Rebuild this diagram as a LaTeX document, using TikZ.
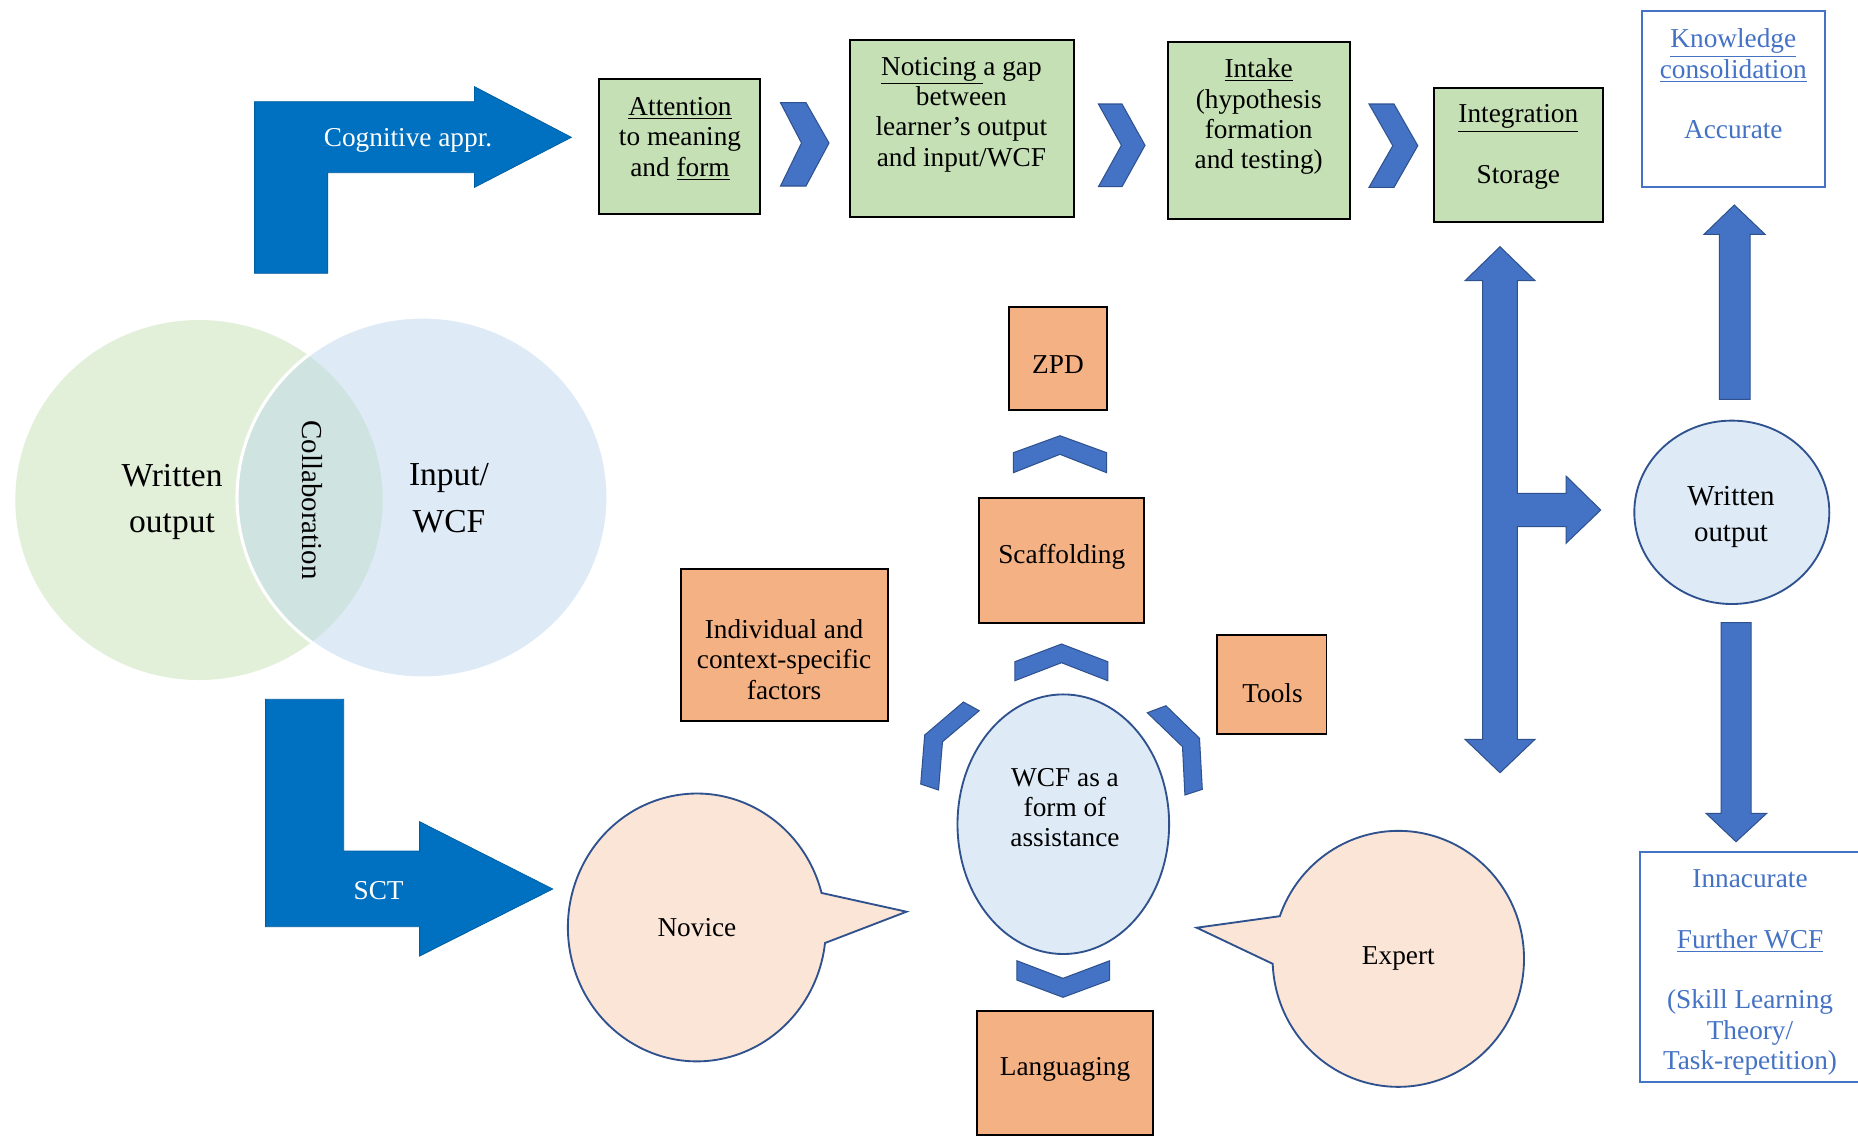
\documentclass[tikz,border=0pt]{standalone}
\usepackage{fontspec}
\setmainfont{Liberation Serif}
\usetikzlibrary{shapes.geometric,shapes.callouts}
\definecolor{cogblue}{HTML}{0070C0}
\definecolor{accblue}{HTML}{4472C4}
\definecolor{accline}{HTML}{2F528F}
\definecolor{boxgreen}{HTML}{C5E0B4}
\definecolor{boxorange}{HTML}{F4B183}
\definecolor{lightblue}{HTML}{DEEBF7}
\definecolor{peach}{HTML}{FBE5D6}
\definecolor{venngreen}{HTML}{E2F0D9}
\definecolor{vennblue}{HTML}{DEEBF7}
\definecolor{vennmix}{HTML}{CFE4E0}
\begin{document}
\begin{tikzpicture}[x=0.017cm, y=-0.017cm,
  every node/.style={inner sep=0pt, outer sep=0pt},
  sz/.style 2 args={minimum width=#1*0.017cm, minimum height=#2*0.017cm},
  txt/.style={align=center, font=\fontsize{13.2}{14.7}\selectfont, yshift=-0.06cm},
  venntxt/.style={align=center, font=\fontsize{16.2}{22.6}\selectfont, yshift=-0.05cm},
  gbox/.style={rectangle, draw=black, line width=0.9pt, fill=boxgreen},
  obox/.style={rectangle, draw=black, line width=0.9pt, fill=boxorange},
  wbox/.style={rectangle, draw=accblue, line width=0.9pt, fill=white},
  blocky/.style={fill=accblue, draw=accline, line width=0.5pt, line join=miter},
  bigarrow/.style={fill=cogblue, draw=cogblue!85!black, line width=0.4pt, line join=miter},
  oval/.style={ellipse, draw=accline, line width=0.9pt, fill=lightblue},
  bubble/.style={ellipse callout, draw=accline, line width=0.9pt, fill=peach},
]
\useasboundingbox (0,0) rectangle (1858,1136);
\fill[white] (0,0) rectangle (1858,1136);

% ---------- Venn diagram ----------
\fill[venngreen] (199,500) ellipse [x radius=183.7, y radius=180];
\fill[vennblue] (422.5,497.5) ellipse [x radius=185.5, y radius=180.5];
\begin{scope}
  \clip (199,500) ellipse [x radius=183.7, y radius=180];
  \fill[vennmix] (422.5,497.5) ellipse [x radius=185.5, y radius=180.5];
\end{scope}
\draw[white, line width=1.5pt] (422.5,497.5) ellipse [x radius=185.5, y radius=180.5];
\node[venntxt] (vennW) at (172,499) {Written\\output};
\node[venntxt] (vennI) at (449,495) {Input/\\WCF};
\node[font=\fontsize{14}{16}\selectfont, rotate=-90] (vennC) at (312.4,500) {Collaboration};

% ---------- big bent arrows ----------
\draw[bigarrow] (254.6,273.3) -- (254.6,101.7) -- (474.5,101.7) -- (474.5,86.7)
  -- (571.3,137.3) -- (474.5,187.3) -- (474.5,172.7) -- (327.8,172.7) -- (327.8,273.3) -- cycle;
\node[txt, text=white] (cog) at (408,136.7) {Cognitive appr.};

\draw[bigarrow] (265.6,699.3) -- (343.7,699.3) -- (343.7,851) -- (419.6,851) -- (419.6,821.7)
  -- (552.7,889) -- (419.6,956) -- (419.6,926.7) -- (265.6,926.7) -- cycle;
\node[txt, text=white] (sct) at (378.6,886.7) {SCT};

% ---------- top row ----------
\node[gbox, sz={161.7}{135}] (att) at (679.5,146.5) {};
\node[txt] (attT) at (680,135.5) {\underline{Attention}\\to meaning\\and \underline{form}};

\node[gbox, sz={224}{177.3}] (noti) at (961.7,128.7) {};
\node[txt] (notiT) at (961.4,111) {\underline{Noticing\ }a gap\\between\\learner’s output\\and input/WCF};

\node[gbox, sz={181.8}{176.7}] (intake) at (1258.7,130.7) {};
\node[txt] (intakeT) at (1258.7,113.2) {\underline{Intake}\\(hypothesis\\formation\\and testing)};

\node[gbox, sz={168.7}{133.4}] (integ) at (1518.4,155) {};
\node[txt] (integT) at (1518.3,143.3) {\underline{Integration}\\[14.7pt]Storage};

\node[wbox, sz={183.3}{176.6}] (know) at (1733.4,99) {};
\node[txt, text=accblue] (knowT) at (1733.3,80.5) {\underline{Knowledge}\\\underline{consolidation}\\[14.7pt]Accurate};

% chevrons of the top row
\draw[blocky] (780.5,102.7) -- (806,102.7) -- (829,143) -- (806,186) -- (780.5,186) -- (801.5,143) -- cycle;
\draw[blocky] (1098.4,104) -- (1122,104) -- (1145,145.3) -- (1122,186.7) -- (1098.4,186.7) -- (1121.4,145.3) -- cycle;
\draw[blocky] (1369,104) -- (1394,104) -- (1417.8,145.7) -- (1394,187.3) -- (1369,187.3) -- (1392.8,145.7) -- cycle;

% ---------- centre (SCT) cluster ----------
\node[obox, sz={97.4}{103.3}] (zpd) at (1058,358.4) {};
\node[txt] (zpdT) at (1058,360.7) {ZPD};

\node[obox, sz={165.3}{125}] (scaf) at (1061.4,560.8) {};
\node[txt] (scafT) at (1061.7,553.3) {Scaffolding};

\node[obox, sz={206.7}{152}] (indiv) at (784.4,645) {};
\node[txt] (indivT) at (784.1,656) {Individual and\\context-specific\\factors};

\node[obox, sz={109.5}{99.3}] (tools) at (1271.8,684.7) {};
\node[txt] (toolsT) at (1272.5,690) {Tools};

\node[obox, sz={175.5}{124.3}] (lang) at (1065,1072.9) {};
\node[txt] (langT) at (1065,1066) {Languaging};

\node[oval, sz={211.6}{259.6}] (wcf) at (1063.3,824.2) {};
\node[txt] (wcfT) at (1065,804) {WCF as a\\form of\\assistance};

% up / down chevrons
\draw[blocky] (1013.3,472.7) -- (1013.3,452.7) -- (1060,435.7) -- (1106.7,452.7) -- (1106.7,472.7) -- (1060,454.3) -- cycle;
\draw[blocky] (1014.8,680.7) -- (1014.8,661.7) -- (1061.5,644) -- (1107.8,661.7) -- (1107.8,680.7) -- (1061.5,662.7) -- cycle;
\draw[blocky] (1016.8,960.7) -- (1063,978.3) -- (1109.7,960.7) -- (1109.7,980) -- (1063,997.3) -- (1016.8,980) -- cycle;
% diagonal chevrons
\draw[blocky] (963.4,702) -- (979.2,710.7) -- (942.5,741.7) -- (938.5,790) -- (920.7,784) -- (924.7,735) -- cycle;
\draw[blocky] (1147.3,712.7) -- (1165.9,705.7) -- (1199.5,738.3) -- (1202.3,789.3) -- (1184.9,795) -- (1182.5,746.7) -- cycle;

% speech bubbles
\node[bubble, sz={258}{267.8}, callout absolute pointer={(906.5,911.7)}, callout pointer arc=21.6, txt] (novice) at (696.9,923.9) {Novice};
\node[bubble, sz={251.4}{256}, callout absolute pointer={(1196.7,927.7)}, callout pointer arc=21.7, txt] (expert) at (1398.3,955.3) {Expert};

% ---------- right part ----------
\draw[blocky] (1500,246.7) -- (1535,280.7) -- (1517.3,280.7) -- (1517.3,493.3) -- (1566,493.3) -- (1566,476)
  -- (1600.7,510) -- (1566,543.3) -- (1566,526.7) -- (1517.3,526.7) -- (1517.3,739.3) -- (1535,739.3)
  -- (1500,772.7) -- (1465,739.3) -- (1482.7,739.3) -- (1482.7,280.7) -- (1465,280.7) -- cycle;

\node[oval, sz={195}{183.4}] (wout) at (1731.8,512.3) {};
\node[align=center, font=\fontsize{14}{17}\selectfont] (woutT) at (1731,517) {Written\\output};

\draw[blocky] (1734.3,205) -- (1765,234.3) -- (1750,234.3) -- (1750,399.3) -- (1719.3,399.3) -- (1719.3,234.3) -- (1704,234.3) -- cycle;
\draw[blocky] (1721,622.7) -- (1751,622.7) -- (1751,813.3) -- (1766.7,813.3) -- (1736,841.7) -- (1706,813.3) -- (1721,813.3) -- cycle;

\node[wbox, sz={221}{229.4}] (innac) at (1750.5,967) {};
\node[txt, text=accblue] (innacT) at (1750,969) {Innacurate\\[14.7pt]\underline{Further WCF}\\[14.7pt](Skill Learning\\Theory/\\Task-repetition)};
\end{tikzpicture}
\end{document}
